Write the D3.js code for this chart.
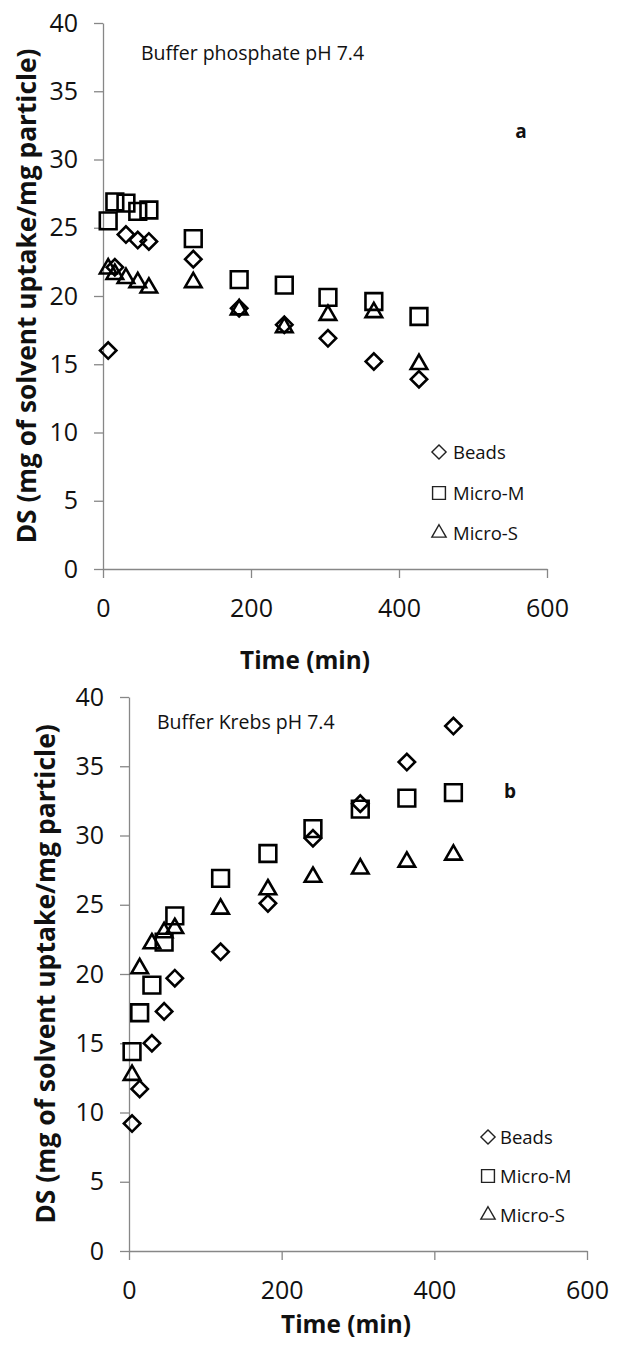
<!DOCTYPE html>
<html>
<head>
<meta charset="utf-8">
<script src="https://cdn.jsdelivr.net/npm/d3@7"></script>
<style>
  body { margin: 0; background: #fff; }
  svg { display: block; }
  text { font-family: "Open Sans", sans-serif; fill: #111; }
</style>
</head>
<body>
<svg id="chart" width="618" height="1345"></svg>
<script>
// Tick labels
const yTicks = [0, 5, 10, 15, 20, 25, 30, 35, 40];
const xTicks = [0, 200, 400, 600];
const seriesNames = ["Beads", "Micro-M", "Micro-S"];

// Panel a: buffer phosphate pH 7.4 (time in min, DS)
const phosTime   = [7, 16, 31, 47, 62, 122, 184, 245, 304, 366, 427];
const phosBeads  = [16.0, 22.1, 24.5, 24.1, 24.0, 22.7, 19.1, 17.9, 16.9, 15.2, 13.9];
const phosMicroM = [25.5, 26.9, 26.8, 26.2, 26.3, 24.2, 21.2, 20.8, 19.9, 19.6, 18.5];
const phosMicroS = [22.0, 21.6, 21.3, 21.0, 20.6, 21.0, 19.0, 17.7, 18.6, 18.8, 15.0];

// Panel b: buffer Krebs pH 7.4
const krebsTime   = [4, 14, 30, 46, 60, 120, 182, 241, 303, 364, 425];
const krebsBeads  = [9.2, 11.7, 15.0, 17.3, 19.7, 21.6, 25.1, 29.8, 32.3, 35.3, 37.9];
const krebsMicroM = [14.4, 17.2, 19.2, 22.3, 24.2, 26.9, 28.7, 30.5, 31.9, 32.7, 33.1];
const krebsMicroS = [12.7, 20.4, 22.2, 23.0, 23.3, 24.7, 26.1, 27.0, 27.6, 28.1, 28.6];

const svg = d3.select("#chart");
const axisColor = "#878787";

// marker shapes, one per series (plot size / legend size)
const shapes = [
  { type: d3.symbolSquare, size: 134, legend: 100, rotate: 45 },  // diamond
  { type: d3.symbolSquare, size: 280, legend: 165, rotate: 0 },   // square
  { type: d3.symbolTriangle, size: 118, legend: 88, rotate: 0 }   // triangle
];

function drawPanel(p) {
  const x = d3.scaleLinear().domain([0, 600]).range([p.left, p.right]);
  const y = d3.scaleLinear().domain([0, 40]).range([p.bottom, p.top]);
  const g = svg.append("g");

  // y axis
  const ya = g.append("g")
    .attr("transform", `translate(${p.left},0)`)
    .call(d3.axisLeft(y).tickValues(yTicks).tickSize(9).tickSizeOuter(0).tickPadding(16));
  // x axis
  const xa = g.append("g")
    .attr("transform", `translate(0,${p.bottom})`)
    .call(d3.axisBottom(x).tickValues(xTicks).tickSize(9).tickSizeOuter(0).tickPadding(21));

  [ya, xa].forEach(a => {
    a.select(".domain").attr("stroke", axisColor).attr("stroke-width", 1.3);
    a.selectAll(".tick line").attr("stroke", axisColor).attr("stroke-width", 1.3);
    a.selectAll(".tick text")
      .attr("font-family", "'Open Sans', sans-serif")
      .attr("font-size", 25)
      .attr("fill", "#1a1a1a");
  });

  // markers
  p.series.forEach((vals, si) => {
    const sh = shapes[si];
    const sym = d3.symbol().type(sh.type).size(sh.size);
    g.append("g").selectAll("path")
      .data(vals.map((v, i) => ({ t: p.time[i], v: v })))
      .join("path")
      .attr("d", sym)
      .attr("transform", d => `translate(${x(d.t)},${y(d.v)}) rotate(${sh.rotate})`)
      .attr("fill", "none")
      .attr("stroke", "#000")
      .attr("stroke-width", 2.6)
      .attr("stroke-linejoin", "miter");
  });

  // panel title and letter
  g.append("text")
    .attr("x", p.titleX).attr("y", p.titleY)
    .attr("font-size", 19.5)
    .text(p.title);
  g.append("text")
    .attr("x", p.letterX).attr("y", p.letterY)
    .attr("font-size", 19).attr("font-weight", "bold")
    .attr("text-anchor", "middle")
    .text(p.letter);

  // legend
  seriesNames.forEach((name, i) => {
    const sh = shapes[i];
    const ly = p.legendY[i];
    g.append("path")
      .attr("d", d3.symbol().type(sh.type).size(sh.legend))
      .attr("transform", `translate(${p.legendX},${ly}) rotate(${sh.rotate})`)
      .attr("fill", "none").attr("stroke", "#222").attr("stroke-width", 1.4);
    g.append("text")
      .attr("x", p.legendX + p.legendGap).attr("y", ly)
      .attr("dy", "0.36em")
      .attr("font-size", 18.5)
      .text(name);
  });

  // axis titles, sized to the reference widths
  const yt = g.append("text")
    .attr("transform", `translate(${p.yTitleX},${(p.top + p.bottom) / 2}) rotate(-90)`)
    .attr("text-anchor", "middle")
    .attr("font-weight", "bold")
    .attr("font-size", 20)
    .text("DS (mg of solvent uptake/mg particle)");
  const ylen = yt.node().getComputedTextLength();
  yt.attr("font-size", 20 * p.yTitleLen / ylen);

  const xt = g.append("text")
    .attr("x", p.xTitleX).attr("y", p.xTitleY)
    .attr("text-anchor", "middle")
    .attr("font-weight", "bold")
    .attr("font-size", 20)
    .text("Time (min)");
  const xlen = xt.node().getComputedTextLength();
  xt.attr("font-size", 20 * 130 / xlen);
}

drawPanel({
  left: 103, right: 547, top: 23, bottom: 569,
  time: phosTime, series: [phosBeads, phosMicroM, phosMicroS],
  title: "Buffer phosphate pH 7.4", titleX: 141, titleY: 60,
  letter: "a", letterX: 521, letterY: 138,
  legendX: 439, legendGap: 14, legendY: [452, 493, 533],
  yTitleX: 36, yTitleLen: 495,
  xTitleX: 305, xTitleY: 669
});

drawPanel({
  left: 129, right: 587, top: 697, bottom: 1251,
  time: krebsTime, series: [krebsBeads, krebsMicroM, krebsMicroS],
  title: "Buffer Krebs pH 7.4", titleX: 157, titleY: 729,
  letter: "b", letterX: 510, letterY: 798,
  legendX: 488, legendGap: 12, legendY: [1137, 1176, 1215],
  yTitleX: 55, yTitleLen: 500,
  xTitleX: 346, xTitleY: 1333
});
</script>
</body>
</html>
